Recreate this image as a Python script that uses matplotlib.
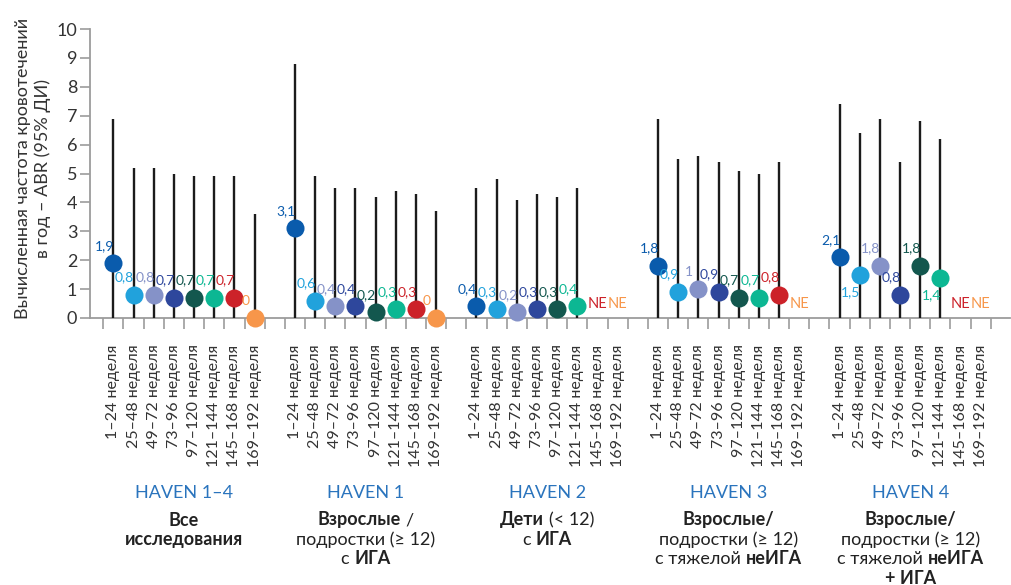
import matplotlib
matplotlib.use("Agg")
import matplotlib.pyplot as plt
import matplotlib.transforms as mtransforms
from matplotlib.offsetbox import TextArea, HPacker, AnnotationBbox

plt.rcParams["font.family"] = ["Lato", "DejaVu Sans"]

# ---- data -------------------------------------------------------------
studies = ["HAVEN 1–4", "HAVEN 1", "HAVEN 2", "HAVEN 3", "HAVEN 4"]
periods = ["1–24 неделя", "25–48 неделя", "49–72 неделя", "73–96 неделя",
           "97–120 неделя", "121–144 неделя", "145–168 неделя", "169–192 неделя"]

# model-based ABR point estimates (None = not estimable)
abr_haven14 = [1.9, 0.8, 0.8, 0.7, 0.7, 0.7, 0.7, 0.0]
abr_haven1 = [3.1, 0.6, 0.4, 0.4, 0.2, 0.3, 0.3, 0.0]
abr_haven2 = [0.4, 0.3, 0.2, 0.3, 0.3, 0.4, None, None]
abr_haven3 = [1.8, 0.9, 1.0, 0.9, 0.7, 0.7, 0.8, None]
abr_haven4 = [2.1, 1.5, 1.8, 0.8, 1.8, 1.4, None, None]

# upper bounds of the 95% CI
ci_haven14 = [6.9, 5.2, 5.2, 5.0, 4.9, 4.9, 4.9, 3.6]
ci_haven1 = [8.8, 4.9, 4.5, 4.5, 4.2, 4.4, 4.3, 3.7]
ci_haven2 = [4.5, 4.8, 4.1, 4.3, 4.2, 4.5, None, None]
ci_haven3 = [6.9, 5.5, 5.6, 5.4, 5.1, 5.0, 5.4, None]
ci_haven4 = [7.4, 6.4, 6.9, 5.4, 6.8, 6.2, None, None]

abr = [abr_haven14, abr_haven1, abr_haven2, abr_haven3, abr_haven4]
ci_hi = [ci_haven14, ci_haven1, ci_haven2, ci_haven3, ci_haven4]

# value labels drawn beneath the marker instead of above
below_labels = {(4, 1), (4, 5)}

period_colors = ["#0A5BAC", "#21A2DC", "#8592C8", "#2E479C",
                 "#13574E", "#0CB793", "#CC2229", "#F7964A"]

# subtitle lines: list of (text, bold) segments per line
subtitles = [
    [[("Все", True)], [("исследования", True)]],
    [[("Взрослые", True), ("/", False)], [("подростки (≥ 12)", False)],
     [("с", False), ("ИГА", True)]],
    [[("Дети", True), ("(< 12)", False)], [("с", False), ("ИГА", True)]],
    [[("Взрослые/", True)], [("подростки (≥ 12)", False)],
     [("с тяжелой", False), ("неИГА", True)]],
    [[("Взрослые/", True)], [("подростки (≥ 12)", False)],
     [("с тяжелой", False), ("неИГА", True)], [("+ ИГА", True)]],
]

# ---- figure ------------------------------------------------------------
W, H = 1012, 585
fig = plt.figure(figsize=(W / 100, H / 100), dpi=100)
ax = fig.add_axes([90 / W, (H - 318) / H, 920 / W, 289 / H])

stride = len(periods) + 1
grey = "#9c9c9c"
text_dark = "#333333"

for g in range(len(studies)):
    for i, col in enumerate(period_colors):
        x = g * stride + i
        v = abr[g][i]
        hi = ci_hi[g][i]
        if v is None:
            ax.text(x, 0.5, "NE", color=col, ha="center", va="center",
                    fontsize=10.5)
            continue
        ax.plot([x, x], [0, hi], color="#1b1b1b", lw=1.7, zorder=2,
                solid_capstyle="butt")
        ax.plot(x, v, "o", ms=13, color=col, mec="none", zorder=4,
                clip_on=False)
        label = f"{v:g}".replace(".", ",")
        dy = -12.5 if (g, i) in below_labels else 12.5
        ax.annotate(label, (x, v), xytext=(-6.5, dy), textcoords="offset points",
                    ha="center", va="center", color=col, fontsize=10,
                    zorder=5)

n_slots = len(studies) * stride
ax.set_xlim(-1.16, n_slots - 0.55)
ax.set_ylim(0, 10)

for side in ("top", "right"):
    ax.spines[side].set_visible(False)
for side in ("left", "bottom"):
    ax.spines[side].set_color(grey)
    ax.spines[side].set_linewidth(1.3)
    ax.spines[side].set_zorder(1)

ax.set_yticks(range(11))
ax.tick_params(axis="y", length=7.2, width=1.2, color=grey, labelsize=13,
               labelcolor=text_dark, pad=2)

ax.set_xticks([k - 0.5 for k in range(n_slots)])
ax.set_xticklabels([])
ax.tick_params(axis="x", which="major", length=8, width=1.2, color=grey)

tick_pos = [g * stride + i for g in range(len(studies)) for i in range(len(periods))]
ax.set_xticks(tick_pos, minor=True)
ax.set_xticklabels(periods * len(studies), minor=True, rotation=90,
                   fontsize=11.5, color=text_dark)
ax.tick_params(axis="x", which="minor", length=0, pad=19)

# y-axis title
fig.text(23 / W, 1 - 168 / H, "Вычисленная частота кровотечений",
         rotation=90, ha="center", va="center", fontsize=13, color=text_dark)
fig.text(43 / W, 1 - 168 / H, "в год – ABR (95% ДИ)",
         rotation=90, ha="center", va="center", fontsize=13, color=text_dark)

# study captions below the axis
trans = mtransforms.blended_transform_factory(ax.transData, fig.transFigure)
for g, name in enumerate(studies):
    xc = g * stride + (len(periods) - 1) / 2
    ax.text(xc, 1 - 493 / H, name, transform=trans, ha="center", va="center",
            fontsize=13, color="#2A74BD")
    for li, segs in enumerate(subtitles[g]):
        parts = [TextArea(t, textprops=dict(fontsize=13, color="#222222",
                                            fontweight="bold" if b else "normal"))
                 for t, b in segs]
        box = HPacker(children=parts, align="baseline", pad=0, sep=3.5)
        ab = AnnotationBbox(box, (xc, 1 - (520 + 19.5 * li) / H), xycoords=trans,
                            frameon=False, box_alignment=(0.5, 0.5), pad=0)
        ax.add_artist(ab)

fig.savefig("out.png", dpi=100)
